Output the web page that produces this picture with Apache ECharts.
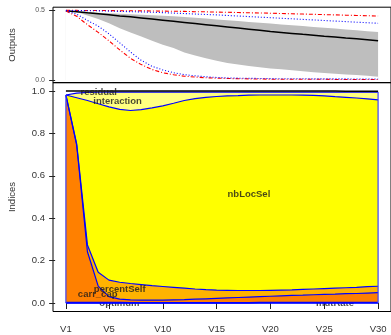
<!DOCTYPE html>
<html><head><meta charset="utf-8">
<script src="https://cdn.jsdelivr.net/npm/echarts@6/dist/echarts.min.js"></script>
<style>html,body{margin:0;padding:0;background:#fff}#c{width:391px;height:335px}</style>
</head><body><div id="c"></div>
<script>
const categories = ['V1','V2','V3','V4','V5','V6','V7','V8','V9','V10','V11','V12','V13','V14','V15','V16','V17','V18','V19','V20','V21','V22','V23','V24','V25','V26','V27','V28','V29','V30'];
const xTickLabels = ['V1','V5','V10','V15','V20','V25','V30'];
const outTicks = [0, 0.5];
const idxTicks = [0, 0.2, 0.4, 0.6, 0.8, 1.0];

// Outputs panel
const outMean  = [0.495,0.488,0.480,0.473,0.466,0.458,0.451,0.443,0.435,0.427,0.419,0.411,0.403,0.395,0.387,0.379,0.371,0.363,0.355,0.347,0.340,0.333,0.326,0.320,0.313,0.307,0.300,0.294,0.288,0.281];
const outBandHigh = [0.495,0.490,0.485,0.481,0.477,0.473,0.469,0.466,0.463,0.459,0.455,0.450,0.445,0.439,0.433,0.427,0.421,0.415,0.409,0.403,0.397,0.391,0.385,0.379,0.373,0.367,0.361,0.355,0.349,0.343];
const outBandLow  = [0.495,0.485,0.460,0.435,0.405,0.370,0.340,0.310,0.280,0.252,0.228,0.197,0.175,0.155,0.137,0.122,0.110,0.100,0.091,0.083,0.076,0.069,0.062,0.056,0.050,0.045,0.040,0.035,0.030,0.024];
const outMax = [0.497,0.497,0.496,0.496,0.496,0.495,0.495,0.494,0.493,0.492,0.491,0.490,0.488,0.487,0.485,0.484,0.482,0.480,0.479,0.477,0.475,0.473,0.471,0.469,0.467,0.465,0.463,0.461,0.459,0.457];
const outMin = [0.493,0.455,0.395,0.340,0.280,0.215,0.155,0.110,0.075,0.052,0.038,0.027,0.021,0.016,0.013,0.011,0.009,0.008,0.007,0.006,0.005,0.005,0.005,0.005,0.005,0.004,0.004,0.004,0.004,0.004];
const outQHigh = [0.497,0.496,0.495,0.494,0.492,0.490,0.488,0.486,0.484,0.481,0.478,0.475,0.471,0.468,0.465,0.461,0.457,0.453,0.449,0.445,0.441,0.437,0.433,0.429,0.425,0.421,0.417,0.413,0.409,0.405];
const outQLow  = [0.495,0.470,0.425,0.385,0.330,0.265,0.200,0.140,0.098,0.072,0.052,0.038,0.030,0.023,0.018,0.015,0.013,0.012,0.011,0.010,0.009,0.009,0.009,0.008,0.008,0.008,0.008,0.007,0.007,0.007];

// Indices panel (stacked, bottom to top)
const mutRate     = [0.001,0.001,0.001,0.001,0.001,0.001,0.001,0.001,0.001,0.001,0.001,0.001,0.001,0.001,0.001,0.001,0.001,0.001,0.002,0.002,0.002,0.002,0.002,0.002,0.002,0.002,0.002,0.002,0.002,0.002];
const optimum     = [0.002,0.002,0.002,0.002,0.002,0.002,0.001,0.001,0.001,0.001,0.001,0.001,0.001,0.001,0.001,0.001,0.001,0.001,0.001,0.001,0.001,0.001,0.001,0.001,0.001,0.001,0.001,0.001,0.001,0.001];
const carr_cap    = [0.978,0.742,0.239,0.077,0.027,0.015,0.013,0.012,0.012,0.012,0.013,0.014,0.016,0.018,0.020,0.022,0.024,0.026,0.027,0.029,0.031,0.033,0.034,0.036,0.038,0.039,0.041,0.042,0.044,0.046];
const percentSelf = [0.000,0.005,0.032,0.065,0.078,0.080,0.077,0.073,0.068,0.064,0.059,0.054,0.048,0.043,0.039,0.036,0.033,0.031,0.029,0.028,0.027,0.026,0.027,0.027,0.027,0.028,0.028,0.029,0.030,0.030];
const nbLocSel    = [0.000,0.218,0.681,0.795,0.817,0.815,0.816,0.825,0.838,0.852,0.868,0.885,0.898,0.907,0.913,0.917,0.919,0.921,0.922,0.921,0.920,0.919,0.916,0.913,0.909,0.903,0.898,0.893,0.886,0.879];
const interaction = [0.000,0.022,0.038,0.054,0.070,0.082,0.087,0.083,0.075,0.065,0.053,0.040,0.031,0.025,0.021,0.018,0.017,0.015,0.014,0.014,0.014,0.014,0.015,0.016,0.018,0.022,0.025,0.028,0.032,0.037];
const residual    = [0.019,0.010,0.007,0.006,0.005,0.005,0.005,0.005,0.005,0.005,0.005,0.005,0.005,0.005,0.005,0.005,0.005,0.005,0.005,0.005,0.005,0.005,0.005,0.005,0.005,0.005,0.004,0.004,0.004,0.004];

const factorNames  = ['mutRate','optimum','carr_cap','percentSelf','nbLocSel','interaction','residual'];
const factorValues = [mutRate, optimum, carr_cap, percentSelf, nbLocSel, interaction, residual];
const factorColors = ['#FF2000','#FF5000','#FF8000','#FFB300','#FFFF00','#FFFF80','#FFFFFF'];

// label anchors in data coordinates (category index, index value)
const labelAnchors = [
  {name:'residual', x:4.05, y:0.994, under:false},
  {name:'interaction', x:5.8, y:0.95, under:false},
  {name:'nbLocSel', x:18.0, y:0.514, under:false},
  {name:'carr_cap', x:3.95, y:0.042, under:false},
  {name:'percentSelf', x:6.0, y:0.062, under:false},
  {name:'optimum', x:5.97, y:-0.004, under:true},
  {name:'mutRate', x:26.0, y:-0.004, under:true}
];

const xs = categories.map((c, i) => i + 1);
const pts = arr => arr.map((v, i) => [xs[i], v]);
const FONT = 'Liberation Sans, Arial, sans-serif';

// cumulative tops of the stacked indices
const cumTops = [];
factorValues.forEach((arr, k) => cumTops.push(arr.map((v, i) => v + (k > 0 ? cumTops[k - 1][i] : 0))));

const chart = echarts.init(document.getElementById('c'), null, {renderer: 'canvas'});

const xMin = -0.2, xMax = 31.2;
const tickPos = xTickLabels.map(l => categories.indexOf(l) + 1);
const xAxisBase = (idx, showLabels) => ({
  type: 'value', gridIndex: idx, min: xMin, max: xMax,
  splitLine: {show: false}, axisLine: {show: false},
  axisTick: {show: showLabels, length: 6, lineStyle: {color: '#222', width: 1}, customValues: tickPos},
  axisLabel: {show: showLabels, margin: 13, fontSize: 9.5, color: '#333', fontFamily: FONT,
    customValues: tickPos, formatter: v => categories[Math.round(v) - 1] || ''}
});

const series = [];
// Top panel: grey band (upper filled grey, lower filled white)
series.push({type:'line', xAxisIndex:0, yAxisIndex:0, data: pts(outBandHigh), symbol:'none', lineStyle:{width:0, opacity:0}, areaStyle:{color:'#BEBEBE', opacity:1}, silent:true, z:1});
series.push({type:'line', xAxisIndex:0, yAxisIndex:0, data: pts(outBandLow), symbol:'none', lineStyle:{width:0, opacity:0}, areaStyle:{color:'#FFFFFF', opacity:1}, silent:true, z:1});
series.push({type:'line', xAxisIndex:0, yAxisIndex:0, data: pts(outMean), symbol:'none', lineStyle:{color:'#000', width:1.5}, z:3});
[outMax, outMin].forEach(a => series.push({type:'line', xAxisIndex:0, yAxisIndex:0, data: pts(a), symbol:'none', lineStyle:{color:'#FF0000', width:1.1, type:[4,2,1,2]}, z:3}));
[outQHigh, outQLow].forEach(a => series.push({type:'line', xAxisIndex:0, yAxisIndex:0, data: pts(a), symbol:'none', lineStyle:{color:'#0000FF', width:1.1, type:[1,2]}, z:3}));

// Bottom panel: fills drawn from the top band down, each to zero
for (let k = factorValues.length - 1; k >= 0; k--) {
  series.push({type:'line', name: factorNames[k], xAxisIndex:1, yAxisIndex:1, data: pts(cumTops[k]), symbol:'none',
    lineStyle:{width:0, opacity:0}, areaStyle:{color: factorColors[k], opacity:1}, silent:true, z:2});
}
// boundary lines
factorValues.forEach((arr, k) => {
  const last = k === factorValues.length - 1;
  series.push({type:'line', xAxisIndex:1, yAxisIndex:1, data: pts(cumTops[k]), symbol:'none',
    lineStyle:{color: last ? '#000' : '#0000FF', width: last ? 1.6 : 1.2}, silent:true, z:3});
});
// baseline and vertical edges
series.push({type:'line', xAxisIndex:1, yAxisIndex:1, data: pts(xs.map(() => 0)), symbol:'none', lineStyle:{color:'#0000FF', width:1.6}, z:3});
const edgeTop = i => cumTops[factorValues.length - 2][i];
[0, categories.length - 1].forEach(i => series.push({type:'line', xAxisIndex:1, yAxisIndex:1, data: [[xs[i], 0], [xs[i], edgeTop(i)]], symbol:'none', lineStyle:{color:'#4040FF', width:1.2}, z:3}));
// factor labels
[true, false].forEach(under => series.push({type:'scatter', xAxisIndex:1, yAxisIndex:1, symbolSize:0, silent:true, z: under ? 1 : 10,
  data: labelAnchors.filter(a => a.under === under).map(a => ({value:[a.x, a.y], name:a.name})),
  label:{show:true, position:'inside', formatter: p => p.name, fontSize:9.5, fontWeight:'bold', color:'#1a1a1a', fontFamily: FONT}}));

chart.setOption({
  animation: false,
  backgroundColor: '#fff',
  grid: [
    {left: 53, top: 7.2, width: 341, height: 75.6, show: true, borderColor: '#000', borderWidth: 1, backgroundColor: 'transparent'},
    {left: 53, top: 82.5, width: 341, height: 229, show: true, borderColor: '#000', borderWidth: 1, backgroundColor: 'transparent'}
  ],
  xAxis: [xAxisBase(0, false), xAxisBase(1, true)],
  yAxis: [
    {type:'value', gridIndex:0, min:-0.02, max:0.52, splitLine:{show:false}, axisLine:{show:false},
      axisTick:{length:6, lineStyle:{color:'#222'}, customValues: outTicks},
      axisLabel:{fontSize:7, color:'#555', margin:8, fontFamily: FONT, customValues: outTicks, formatter: v => v.toFixed(1)}},
    {type:'value', gridIndex:1, min:-0.04, max:1.04, splitLine:{show:false}, axisLine:{show:false},
      axisTick:{length:6, lineStyle:{color:'#222'}, customValues: idxTicks},
      axisLabel:{fontSize:9.5, color:'#333', margin:8, fontFamily: FONT, customValues: idxTicks, formatter: v => v.toFixed(1)}}
  ],
  graphic: [
    {type:'text', x:12, y:45, rotation: Math.PI/2, style:{text:'Outputs', font:'9.5px ' + FONT, fill:'#333', textAlign:'center', textVerticalAlign:'middle'}},
    {type:'text', x:12, y:197, rotation: Math.PI/2, style:{text:'Indices', font:'9.5px ' + FONT, fill:'#333', textAlign:'center', textVerticalAlign:'middle'}}
  ],
  series: series
});
</script></body></html>
